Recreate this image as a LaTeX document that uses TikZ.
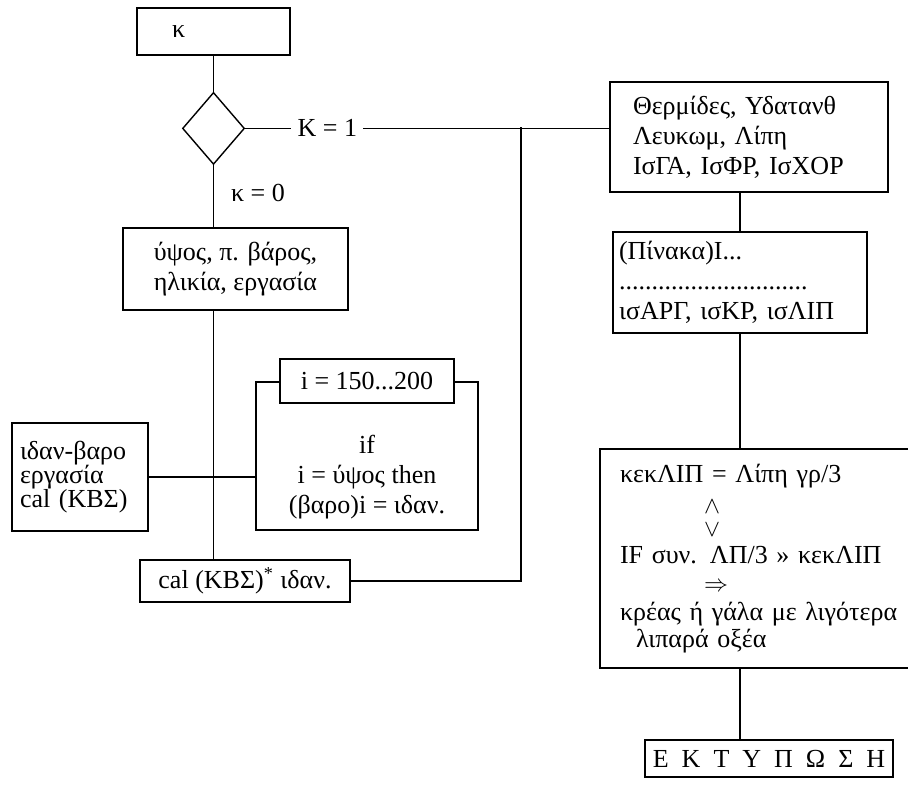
\documentclass[tikz,border=0pt]{standalone}
\usepackage{fontspec}
\setmainfont{Liberation Serif}
\usetikzlibrary{positioning,shapes.geometric}
\tikzset{
  flowbox/.style={
    rectangle, draw, line width=0.7pt,
    font=\fontsize{13}{15}\selectfont, align=center,
    inner sep=4pt
  },
  textbox/.style={
    flowbox, align=left
  },
  decision/.style={
    diamond, draw, line width=0.7pt,
    minimum width=31pt, minimum height=36pt, inner sep=0pt
  },
  labelnode/.style={
    font=\fontsize{13}{15}\selectfont, inner sep=3pt
  },
  link/.style={
    line width=0.7pt
  },
}

\begin{document}
\begin{tikzpicture}[x=0.5pt, y=-0.5pt]
  \useasboundingbox (0,0) rectangle (908,788);

  % Input side
  \node[textbox, text width=41.5pt, inner xsep=17.5pt, minimum height=23.5pt] (start) at (213.5,31.5) {κ};
  \node[decision, below=18pt of start] (dec) {};
  \node[labelnode, right=23pt of dec] (kone) {K = 1};
  \node[labelnode] (kzero) at (258,193) {κ = 0};
  \node[flowbox, minimum width=112.5pt, minimum height=41pt] (input) at (235.5,269)
    {ύψος, π. βάρος,\\ ηλικία, εργασία};

  % Ideal weight loop
  \node[textbox, text width=60pt, inner xsep=4pt, minimum height=54pt,
        font=\fontsize{13}{12}\selectfont] (ideal) at (80,477)
    {ιδαν-βαρο\\ εργασία\\ cal (ΚΒΣ)};
  \node[flowbox, minimum width=111pt, minimum height=74pt] (body) at (367,456)
    {\mbox{}\\[15pt] if\\ i = ύψος then\\ (βαρο)i = ιδαν.};
  \node[flowbox, fill=white, minimum width=87pt, minimum height=22pt] (loop) at (367,381)
    {i = 150...200};
  \node[flowbox, minimum width=105pt, minimum height=20pt] (cal) at (245,581)
    {cal (ΚΒΣ)\textsuperscript{*} ιδαν.};
  \coordinate (jn) at (521,127);

  % Diet side
  \node[textbox, text width=116pt, inner xsep=11.5pt, minimum height=55pt] (bio) at (749,137)
    {Θερμίδες, Υδατανθ\\ Λευκωμ, Λίπη\\ ΙσΓΑ, ΙσΦΡ, ΙσΧΟΡ};
  \node[textbox, text width=121pt, inner xsep=3pt, minimum height=50.5pt] (tab) at (740,282.5)
    {(Πίνακα)Ι...\\ .............................\\ ισΑΡΓ, ισΚΡ, ισΛΙΠ};
  \node[textbox, text width=146pt, inner xsep=10pt, minimum height=109.5pt] (fat) at (766,558.5)
    {κεκΛΙΠ = Λίπη γρ/3\\[0.5pt]
     \hspace*{42pt}$\wedge$\\[-3.5pt]
     \hspace*{42pt}$\vee$\\[-1.5pt]
     IF συν. ΛΠ/3 » κεκΛΙΠ\\[-1pt]
     \hspace*{42pt}$\Rightarrow$\\[-0.5pt]
     κρέας ή γάλα με λιγότερα\\[-1.5pt]
     \hspace*{8pt}λιπαρά οξέα};
  \node[flowbox, minimum width=119pt, minimum height=18.5pt] (prt) at (769,758.5)
    {Ε~~Κ~~Τ~~Υ~~Π~~Ω~~Σ~~Η};

  % Connectors
  \draw[link] (start) -- (dec);
  \draw[link] (dec.east) -- (kone.west);
  \draw[link] (kone.east) -- (kone.east -| bio.west);
  \draw[link] (dec.south) -- (dec.south |- input.north);
  \draw[link] (input.south -| dec.south) -- (cal.north -| dec.south);
  \draw[link] (ideal.east) -- (ideal.east -| body.west);
  \draw[link] (cal.east) -| (jn);
  \draw[link] (tab.north) -- (tab.north |- bio.south);
  \draw[link] (tab.south) -- (tab.south |- fat.north);
  \draw[link] (fat.south -| tab.south) -- (prt.north -| tab.south);
\end{tikzpicture}
\end{document}
